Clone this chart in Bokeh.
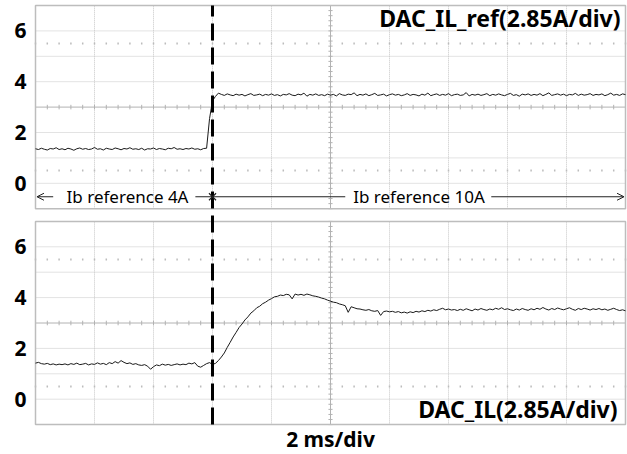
import numpy as np
from bokeh.plotting import figure
from bokeh.models import Range1d, FixedTicker, CustomJSTickFormatter, Arrow, OpenHead
from bokeh.core.properties import value
from bokeh.embed import file_html
from bokeh.resources import INLINE

# ---------------- data ----------------
T_STEP_MS = 0.1          # sample spacing of the traces, ms
T_SPAN_MS = 20.0         # 10 div x 2 ms/div
STEP_TIME_MS = 6.0       # reference step instant (dashed marker)

# DAC_IL_ref trace (upper panel), one value per 0.1 ms
ref_trace = [
    1.36, 1.33, 1.38, 1.34, 1.31, 1.37, 1.35, 1.40, 1.33, 1.36,
    1.32, 1.38, 1.35, 1.30, 1.36, 1.39, 1.34, 1.37, 1.33, 1.35,
    1.41, 1.34, 1.36, 1.31, 1.38, 1.35, 1.33, 1.39, 1.36, 1.32,
    1.37, 1.35, 1.40, 1.34, 1.36, 1.33, 1.38, 1.31, 1.36, 1.35,
    1.39, 1.33, 1.37, 1.35, 1.32, 1.38, 1.36, 1.41, 1.34, 1.36,
    1.33, 1.37, 1.35, 1.39, 1.34, 1.36, 1.32, 1.37, 1.38, 2.55,
    3.25, 3.42, 3.55, 3.50, 3.46, 3.52, 3.48, 3.45, 3.51, 3.47,
    3.50, 3.44, 3.49, 3.53, 3.46, 3.48, 3.51, 3.45, 3.50, 3.47,
    3.52, 3.46, 3.49, 3.44, 3.50, 3.48, 3.53, 3.47, 3.45, 3.51,
    3.48, 3.55, 3.43, 3.50, 3.47, 3.52, 3.46, 3.49, 3.45, 3.51,
    3.47, 3.50, 3.44, 3.53, 3.48, 3.46, 3.51, 3.49, 3.56, 3.45,
    3.50, 3.47, 3.52, 3.45, 3.49, 3.54, 3.46, 3.48, 3.51, 3.44,
    3.49, 3.52, 3.47, 3.50, 3.45, 3.48, 3.53, 3.46, 3.50, 3.48,
    3.44, 3.51, 3.47, 3.55, 3.45, 3.49, 3.52, 3.46, 3.50, 3.47,
    3.53, 3.45, 3.49, 3.51, 3.46, 3.48, 3.57, 3.44, 3.50, 3.47,
    3.51, 3.46, 3.49, 3.53, 3.45, 3.50, 3.47, 3.52, 3.48, 3.45,
    3.50, 3.54, 3.46, 3.49, 3.43, 3.51, 3.48, 3.52, 3.46, 3.50,
    3.47, 3.53, 3.45, 3.50, 3.56, 3.46, 3.49, 3.52, 3.47, 3.51,
    3.45, 3.50, 3.48, 3.54, 3.46, 3.51, 3.47, 3.49, 3.53, 3.46,
    3.50, 3.48, 3.52, 3.45, 3.49, 3.55, 3.47, 3.50, 3.46, 3.52,
    3.49,
]

# DAC_IL trace (lower panel)
il_trace = [
    1.42, 1.45, 1.40, 1.38, 1.41, 1.36, 1.39, 1.35, 1.38, 1.36,
    1.39, 1.35, 1.40, 1.37, 1.42, 1.36, 1.38, 1.41, 1.35, 1.39,
    1.37, 1.43, 1.38, 1.41, 1.36, 1.44, 1.40, 1.48, 1.42, 1.52,
    1.45, 1.40, 1.43, 1.37, 1.40, 1.35, 1.33, 1.36, 1.30, 1.18,
    1.28, 1.35, 1.32, 1.38, 1.34, 1.37, 1.33, 1.36, 1.39, 1.35,
    1.38, 1.36, 1.42, 1.39, 1.44, 1.30, 1.26, 1.33, 1.40, 1.44,
    1.37, 1.41, 1.52, 1.66, 1.82, 2.04, 2.24, 2.45, 2.63, 2.82,
    2.96, 3.12, 3.24, 3.39, 3.48, 3.60, 3.66, 3.76, 3.82, 3.90,
    3.96, 4.03, 4.05, 4.10, 4.08, 4.13, 4.11, 3.95, 4.14, 4.10,
    4.13, 4.09, 4.14, 4.11, 4.07, 4.05, 4.02, 3.98, 3.95, 3.90,
    3.86, 3.82, 3.80, 3.75, 3.72, 3.68, 3.42, 3.64, 3.60, 3.56,
    3.55, 3.52, 3.50, 3.53, 3.48, 3.46, 3.49, 3.30, 3.45, 3.47,
    3.44, 3.46, 3.42, 3.45, 3.40, 3.43, 3.39, 3.44, 3.41, 3.46,
    3.43, 3.48, 3.45, 3.50, 3.47, 3.52, 3.49, 3.54, 3.58, 3.52,
    3.55, 3.51, 3.53, 3.49, 3.54, 3.50, 3.56, 3.52, 3.48, 3.55,
    3.51, 3.57, 3.53, 3.50, 3.55, 3.52, 3.58, 3.54, 3.60, 3.53,
    3.56, 3.52, 3.49, 3.55, 3.51, 3.57, 3.53, 3.50, 3.56, 3.52,
    3.58, 3.54, 3.61, 3.55, 3.51, 3.57, 3.53, 3.59, 3.55, 3.52,
    3.56, 3.60, 3.54, 3.50, 3.57, 3.53, 3.58, 3.55, 3.51, 3.56,
    3.53, 3.57, 3.52, 3.55, 3.50, 3.54, 3.58, 3.53, 3.49, 3.52,
    3.48,
]

y_tick_values = [0, 2, 4, 6]
top_label = "DAC_IL_ref(2.85A/div)"
bottom_label = "DAC_IL(2.85A/div)"
time_label = "2 ms/div"
span_labels = ["Ib reference 4A", "Ib reference 10A"]
span_label_t = [3.12, 13.0]

# ---------------- layout constants ----------------
Y_LO, Y_HI = -1, 7            # each panel spans 8 divisions
TOP_OFF = 8.5                 # upper panel is drawn shifted up by this much
PX_PER_MS = 29.5
PX_PER_UNIT = 25.4
LEFT_PAD = 33
FRAME_W, FRAME_H = 594, 454
x_start = -2 / PX_PER_MS
y_end = Y_HI + TOP_OFF + 5 / PX_PER_UNIT
y_start = y_end - FRAME_H / PX_PER_UNIT

FONT = value("Noto Sans")
GRID_C = "#c6c6c6"
AXIS_C = "#b2b2b2"
BORDER_C = "#bdbdbd"
TRACE_C = "#1a1a1a"

p = figure(width=LEFT_PAD + FRAME_W, height=FRAME_H, output_backend="svg",
           toolbar_location=None, x_axis_location=None,
           x_range=Range1d(x_start, x_start + FRAME_W / PX_PER_MS),
           y_range=Range1d(y_start, y_end),
           min_border_left=LEFT_PAD, min_border_right=0,
           min_border_top=0, min_border_bottom=0)
p.outline_line_color = None
p.xgrid.visible = False
p.ygrid.visible = False
p.background_fill_color = "white"

# y axis: tick labels 0..6 repeated for both panels
p.yaxis.ticker = FixedTicker(ticks=[v for v in y_tick_values] + [v + TOP_OFF for v in y_tick_values])
p.yaxis.formatter = CustomJSTickFormatter(
    args=dict(off=TOP_OFF), code="return (tick > 7.25 ? tick - off : tick).toFixed(0);")
p.yaxis.axis_line_color = None
p.yaxis.major_tick_line_color = None
p.yaxis.minor_tick_line_color = None
p.yaxis.major_tick_out = 0
p.yaxis.major_tick_in = 0
p.yaxis.major_label_standoff = 7
p.yaxis.major_label_text_font = "Noto Sans"
p.yaxis.major_label_text_font_style = "bold"
p.yaxis.major_label_text_font_size = "21px"
p.yaxis.major_label_text_color = "black"

div_ms = T_SPAN_MS / 10
sub_ms = div_ms / 5
for off in (0.0, TOP_OFF):
    # horizontal dotted graticule
    hy = [v + off for v in range(Y_LO + 1, Y_HI) if v != 3]
    p.segment(x0=0, x1=T_SPAN_MS, y0=hy, y1=hy, line_color=GRID_C,
              line_dash="1 1", line_width=1)
    # vertical dotted graticule
    vx = [div_ms * k for k in range(1, 10) if k != 5]
    p.segment(x0=vx, x1=vx, y0=Y_LO + off, y1=Y_HI + off, line_color=GRID_C,
              line_dash="1 1", line_width=1)
    # center cross
    p.segment(x0=0, x1=T_SPAN_MS, y0=3 + off, y1=3 + off, line_color=AXIS_C, line_width=1)
    p.segment(x0=T_SPAN_MS / 2, x1=T_SPAN_MS / 2, y0=Y_LO + off, y1=Y_HI + off,
              line_color=AXIS_C, line_width=1)
    # minor ticks on center cross
    tx = np.arange(0, T_SPAN_MS + 1e-9, sub_ms)
    p.segment(x0=tx, x1=tx, y0=3 + off - 0.09, y1=3 + off + 0.09, line_color=AXIS_C, line_width=1)
    ty = np.arange(Y_LO, Y_HI + 1e-9, 0.2)
    p.segment(x0=T_SPAN_MS / 2 - 0.07, x1=T_SPAN_MS / 2 + 0.07, y0=ty + off, y1=ty + off,
              line_color=AXIS_C, line_width=1)
    # dot rows
    for dy in (0.5, 5.5):
        p.segment(x0=tx, x1=tx, y0=dy + off - 0.04, y1=dy + off + 0.04,
                  line_color="#bcbcbc", line_width=1.5)
    # panel border
    p.quad(left=0, right=T_SPAN_MS, bottom=Y_LO + off, top=Y_HI + off,
           fill_color=None, line_color=BORDER_C, line_width=1.5)

# traces
t_ref = np.arange(len(ref_trace)) * T_STEP_MS
t_il = np.arange(len(il_trace)) * T_STEP_MS
p.line(t_ref, np.array(ref_trace) + TOP_OFF, line_color=TRACE_C, line_width=1)
p.line(t_il, np.array(il_trace), line_color=TRACE_C, line_width=1)

# dashed step marker through both panels
p.segment(x0=STEP_TIME_MS, x1=STEP_TIME_MS, y0=Y_LO, y1=Y_HI + TOP_OFF,
          line_color="black", line_width=3, line_dash="17 7")

# reference span annotation
row_y = TOP_OFF - 0.53
p.add_layout(Arrow(end=OpenHead(size=7, line_width=1, line_color="#222222"),
                   x_start=0.6, y_start=row_y, x_end=0.05, y_end=row_y,
                   line_color="#222222", line_width=1))
p.segment(x0=5.42, x1=10.5, y0=row_y, y1=row_y, line_color="#222222", line_width=1)
p.add_layout(Arrow(end=OpenHead(size=7, line_width=1, line_color="#222222"),
                   x_start=15.45, y_start=row_y, x_end=19.95, y_end=row_y,
                   line_color="#222222", line_width=1))
p.scatter(x=[STEP_TIME_MS], y=[row_y], marker="x", size=10, line_color="#222222", line_width=1.2)
p.text(x=span_label_t, y=[row_y, row_y], text=span_labels, text_align="center",
       text_baseline="middle", text_font=FONT, text_font_size="17px", text_color="black")

# channel labels
p.text(x=[19.83], y=[6.49 + TOP_OFF], text=[top_label], text_align="right",
       text_baseline="middle", text_font=FONT, text_font_style="bold",
       text_font_size="23px", text_color="black")
p.text(x=[19.73], y=[-0.37], text=[bottom_label], text_align="right",
       text_baseline="middle", text_font=FONT, text_font_style="bold",
       text_font_size="23px", text_color="black")
p.text(x=[T_SPAN_MS / 2], y=[y_end - 438 / PX_PER_UNIT], text=[time_label], text_align="center",
       text_baseline="middle", text_font=FONT, text_font_style="bold",
       text_font_size="21px", text_color="black")

open("out.html", "w").write(file_html(p, INLINE))
